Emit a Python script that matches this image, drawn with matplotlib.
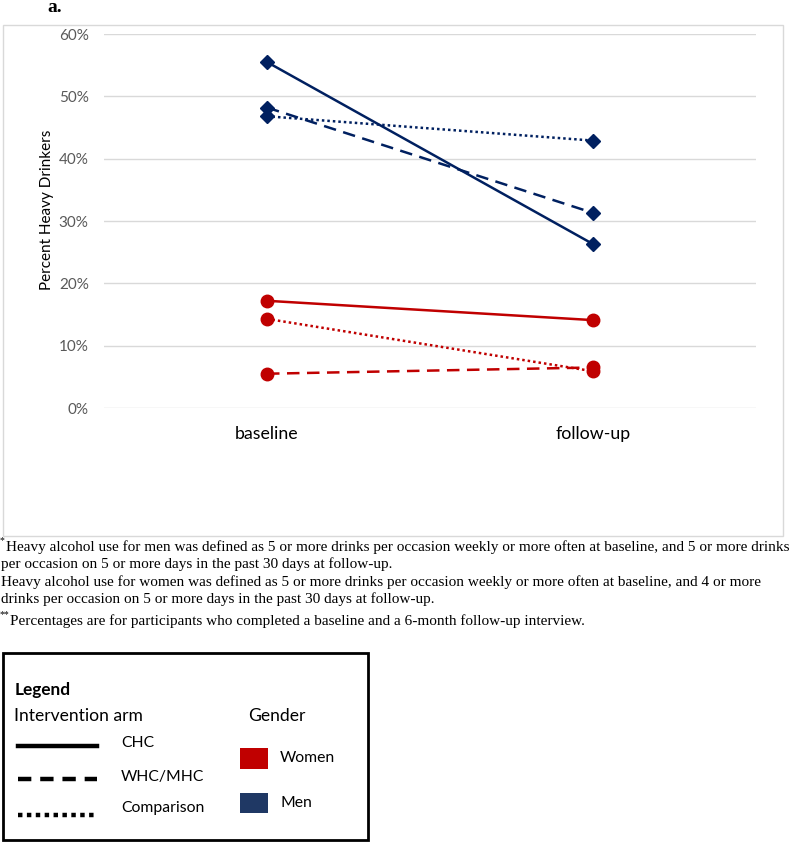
import matplotlib.pyplot as plt
from matplotlib.patches import Rectangle
from matplotlib.lines import Line2D

# time points
timepoints = ["baseline", "follow-up"]

# percent heavy drinkers (fraction)
men_chc = [0.555, 0.263]
men_whc = [0.482, 0.313]
men_comp = [0.468, 0.429]
women_chc = [0.172, 0.141]
women_whc = [0.055, 0.065]
women_comp = [0.143, 0.059]

yticks = [0, 0.1, 0.2, 0.3, 0.4, 0.5, 0.6]

navy = "#002060"
red = "#C00000"
men_box = "#1F3864"

footnotes = [
    "Heavy alcohol use for men was defined as 5 or more drinks per occasion weekly or more often at baseline, and 5 or more drinks",
    "per occasion on 5 or more days in the past 30 days at follow-up.",
    "Heavy alcohol use for women was defined as 5 or more drinks per occasion weekly or more often at baseline, and 4 or more",
    "drinks per occasion on 5 or more days in the past 30 days at follow-up.",
    "Percentages are for participants who completed a baseline and a 6-month follow-up interview.",
]

W, H = 800, 842
fig = plt.figure(figsize=(W / 100, H / 100), dpi=100)

def fx(px):
    return px / W

def fy(py):
    return 1 - py / H

# chart area border
fig.patches.append(Rectangle((fx(3), fy(536)), fx(780), 511 / H, transform=fig.transFigure,
                             fill=False, edgecolor="#D9D9D9", linewidth=1))

ax = fig.add_axes([fx(104), fy(408), fx(652), (408 - 34) / H])
x = list(range(len(timepoints)))

ax.plot(x, men_chc, color=navy, lw=1.8, marker="D", ms=7, linestyle="-")
ax.plot(x, men_whc, color=navy, lw=1.8, marker="D", ms=7, linestyle=(0, (5, 3)))
ax.plot(x, men_comp, color=navy, lw=1.8, marker="D", ms=7, linestyle=(0, (1, 1.2)))
ax.plot(x, women_chc, color=red, lw=1.8, marker="o", ms=9, linestyle="-")
ax.plot(x, women_whc, color=red, lw=1.8, marker="o", ms=9, linestyle=(0, (5, 3)))
ax.plot(x, women_comp, color=red, lw=1.8, marker="o", ms=9, linestyle=(0, (1, 1.2)))

ax.set_xlim(-0.5, 1.5)
ax.set_ylim(0, 0.6)
ax.set_yticks(yticks)
ax.set_yticklabels([f"{int(round(v * 100))}%" for v in yticks], family="Lato")
ax.set_xticks(x)
ax.set_xticklabels(timepoints, fontsize=12.8, color="#000000", family="Lato")
ax.yaxis.grid(True, color="#D9D9D9", lw=1)
ax.set_axisbelow(True)
for s in ax.spines.values():
    s.set_visible(False)
ax.tick_params(axis="y", length=0, labelsize=11, labelcolor="#595959", pad=11)
ax.tick_params(axis="x", length=0, pad=13)
ax.set_ylabel("Percent Heavy Drinkers", fontsize=11, family="Lato")
ax.yaxis.set_label_coords(-0.076, 0.53)

fig.text(fx(47), fy(7), "a.", fontsize=14, fontweight="bold", family="Liberation Serif", va="center")

# footnotes
serif = "Liberation Serif"
ys = [547, 564, 582, 599, 621]
for i, (t, yy) in enumerate(zip(footnotes, ys)):
    xs = 1
    if i == 0:
        fig.text(fx(0), fy(yy - 6), "*", fontsize=7, family=serif, va="center")
        xs = 6
    if i == 4:
        fig.text(fx(0), fy(yy - 6), "**", fontsize=7, family=serif, va="center")
        xs = 10
    fig.text(fx(xs), fy(yy), t, fontsize=11.0, family=serif, va="center")

# legend box
fig.patches.append(Rectangle((fx(3), fy(840)), fx(365), (840 - 653) / H, transform=fig.transFigure,
                             fill=False, edgecolor="black", linewidth=2))
sans = "Lato"
fig.text(fx(15), fy(690), "Legend", fontsize=12.4, fontweight="bold", family=sans, va="center")
fig.text(fx(14), fy(716), "Intervention arm", fontsize=12.6, family=sans, va="center")
fig.text(fx(248), fy(716), "Gender", fontsize=12.6, family=sans, va="center")

styles = [("-", "CHC", 746, 743), ((0, (3, 2)), "WHC/MHC", 779, 777), ((0, (1, 1)), "Comparison", 815, 808)]
for ls, lab, ly, ty in styles:
    fig.lines.append(Line2D([fx(18), fx(97)], [fy(ly), fy(ly)], transform=fig.transFigure,
                            color="black", lw=3.2, linestyle=ls))
    fig.text(fx(121), fy(ty), lab, fontsize=11.3, family=sans, va="center")

for col, lab, top, bot in [(red, "Women", 748, 769), (men_box, "Men", 793, 813)]:
    fig.patches.append(Rectangle((fx(240), fy(bot)), fx(28), (bot - top) / H, transform=fig.transFigure,
                                 facecolor=col, edgecolor="none"))
    fig.text(fx(280), fy((top + bot) / 2), lab, fontsize=11.3, family=sans, va="center")

fig.savefig("out.png", dpi=100)
